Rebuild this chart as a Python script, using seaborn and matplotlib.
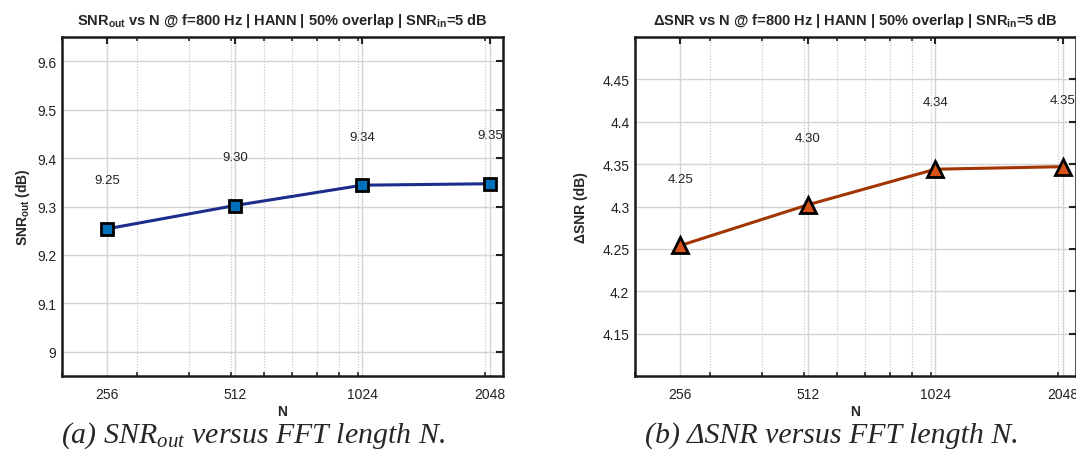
import numpy as np
import pandas as pd
import matplotlib
matplotlib.use("Agg")
import matplotlib.pyplot as plt
from matplotlib.ticker import FixedLocator, LogLocator, NullFormatter
import seaborn as sns

# data
fft_len = [256, 512, 1024, 2048]
snr_out = [9.254, 9.302, 9.344, 9.347]
delta_snr = [4.254, 4.302, 4.344, 4.347]
snr_in = 5

sns.set_theme(style="white")
plt.rcParams["font.family"] = ["Liberation Sans", "DejaVu Sans"]
plt.rcParams["mathtext.fontset"] = "custom"
plt.rcParams["mathtext.rm"] = "Liberation Sans"
plt.rcParams["mathtext.bf"] = "Liberation Sans:bold"
plt.rcParams["mathtext.it"] = "Liberation Serif:italic"

df = pd.DataFrame({"N": fft_len, "SNR_out": snr_out, "dSNR": delta_snr})

fig = plt.figure(figsize=(10.76, 4.56), dpi=100)
W, H = 1076, 456
ax1 = fig.add_axes([62 / W, 1 - 377 / H, 441 / W, 339 / H])
ax2 = fig.add_axes([635 / W, 1 - 377 / H, 441 / W, 339 / H])


def style_axes(ax, ylim, yticks, ylabels):
    ax.set_xscale("log", base=2)
    ax.set_xlim(200, 2200)
    ax.set_ylim(*ylim)
    ax.xaxis.set_major_locator(FixedLocator(fft_len))
    ax.set_xticklabels([str(n) for n in fft_len])
    ax.xaxis.set_minor_locator(LogLocator(base=10, subs=np.arange(1, 10)))
    ax.xaxis.set_minor_formatter(NullFormatter())
    ax.set_yticks(yticks)
    ax.set_yticklabels(ylabels)
    ax.grid(True, which="major", color="#d4d4d4", lw=1.0, ls="-")
    ax.grid(True, which="minor", axis="x", color="#c4c4c4", lw=0.8, ls=(0, (1, 1.5)))
    ax.set_axisbelow(True)
    ax.tick_params(which="major", direction="in", length=5, width=1.5,
                   top=True, right=True, labelsize=10, colors="#222222")
    ax.tick_params(axis="x", which="major", pad=8)
    ax.tick_params(axis="y", which="major", pad=4)
    ax.tick_params(which="minor", direction="in", length=3, width=1.2,
                   top=True, right=False, bottom=True)
    for s in ax.spines.values():
        s.set_color("#1a1a1a")
        s.set_linewidth(1.8)
    ax.set_xlabel("N", fontsize=10, fontweight="bold", labelpad=2)


# (a) SNR_out
sns.lineplot(data=df, x="N", y="SNR_out", ax=ax1, color="#1c2d8c", lw=2.2,
             marker="s", markersize=8.5, markerfacecolor="#0072BD",
             markeredgecolor="black", markeredgewidth=2)
style_axes(ax1, (8.95, 9.65), [9.0, 9.1, 9.2, 9.3, 9.4, 9.5, 9.6],
           ["9", "9.1", "9.2", "9.3", "9.4", "9.5", "9.6"])
for n, v in zip(fft_len, snr_out):
    ax1.text(n, v + 0.1, f"{v:.2f}", ha="center", va="center", fontsize=9.5, color="#222222")
ax1.set_title(r"SNR$_{\mathbf{out}}$ vs N @ f=800 Hz | HANN | 50% overlap | SNR$_{\mathbf{in}}$=" + f"{snr_in} dB",
              fontsize=10.5, fontweight="bold", pad=9)
ax1.set_ylabel(r"SNR$_{\mathbf{out}}$ (dB)", fontsize=10, fontweight="bold", labelpad=4)

# (b) delta SNR
sns.lineplot(data=df, x="N", y="dSNR", ax=ax2, color="#a23500", lw=2.2,
             marker="^", markersize=11, markerfacecolor="#D95319",
             markeredgecolor="black", markeredgewidth=2)
style_axes(ax2, (4.1, 4.5), [4.15, 4.2, 4.25, 4.3, 4.35, 4.4, 4.45],
           ["4.15", "4.2", "4.25", "4.3", "4.35", "4.4", "4.45"])
for n, v in zip(fft_len, delta_snr):
    ax2.text(n, v + 0.079, f"{v:.2f}", ha="center", va="center", fontsize=9.5, color="#222222")
ax2.set_title(r"ΔSNR vs N @ f=800 Hz | HANN | 50% overlap | SNR$_{\mathbf{in}}$=" + f"{snr_in} dB",
              fontsize=10.5, fontweight="bold", pad=9)
ax2.set_ylabel("ΔSNR (dB)", fontsize=10, fontweight="bold", labelpad=10)

# captions
fig.text(253 / W, 1 - 436 / H, r"(a) SNR$_{out}$ versus FFT length N.",
         family="Liberation Serif", style="italic", fontsize=21.5, ha="center", va="center")
fig.text(832 / W, 1 - 436 / H, "(b) ΔSNR versus FFT length N.",
         family="Liberation Serif", style="italic", fontsize=21.5, ha="center", va="center")

fig.savefig("out.png", dpi=100)
